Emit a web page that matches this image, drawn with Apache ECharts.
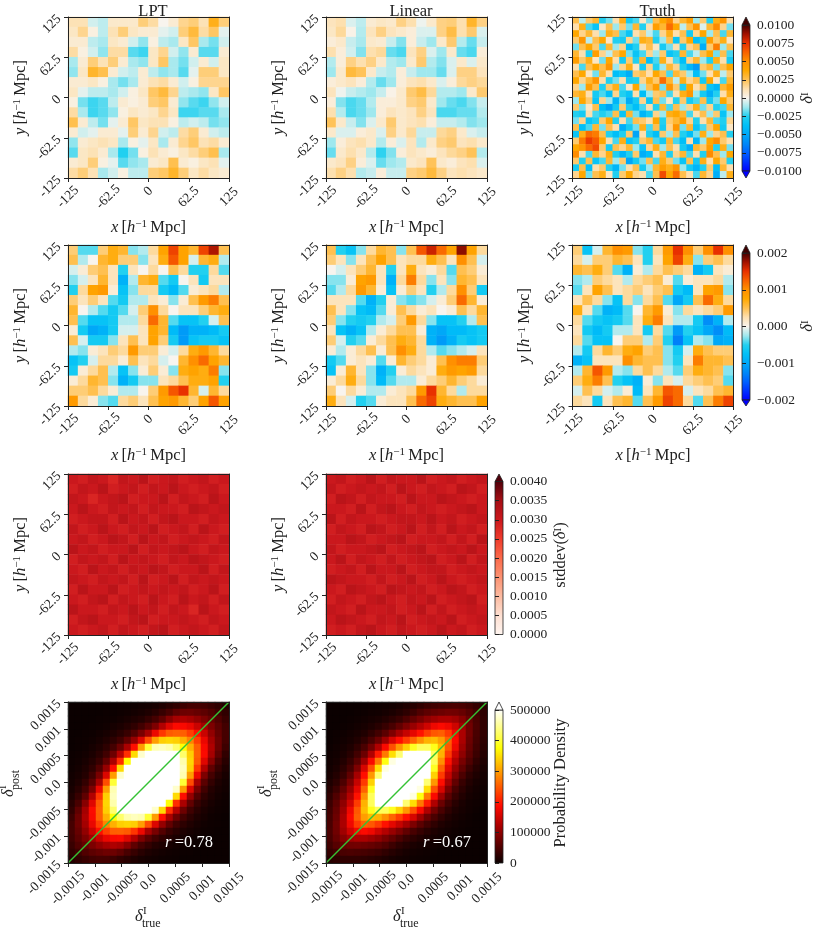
<!DOCTYPE html>
<html>
<head>
<meta charset="utf-8">
<style>
  html, body { margin: 0; padding: 0; background: #fff; }
  #chart { width: 822px; height: 929px; }
</style>
<script src="https://cdn.jsdelivr.net/npm/echarts@6/dist/echarts.min.js"></script>
</head>
<body>
<div id="chart"></div>
<script>
// all field grids run from the top row (y = 125) to the bottom row (y = -125)
// row 1 fields, units are set where the panels are added
var lptFine = [
  [8,8,-4,-6,5,5,5,14,10,0,4,12,14,8,24,14],
  [6,12,2,-6,8,14,6,4,4,-2,-4,14,20,10,16,-2],
  [4,4,-6,-8,6,4,-4,-10,2,-6,-8,6,16,-8,-12,-4],
  [10,2,-4,-10,10,10,-14,-16,6,12,-4,-10,4,-14,-14,4],
  [-8,4,14,8,14,4,-8,-10,6,16,-8,-12,-4,4,-4,6],
  [-10,6,22,18,4,-4,-6,4,-6,-10,-8,-14,-2,14,14,6],
  [4,4,6,2,-8,-12,-8,4,8,10,4,-4,2,12,12,12],
  [6,-2,-6,-6,-8,-4,2,6,16,20,12,-6,-8,-10,6,16],
  [2,-12,-16,-14,-6,4,2,4,14,16,4,-10,-14,-16,-10,-4],
  [10,-8,-16,-14,-10,2,6,4,6,12,6,-16,-16,-14,-14,-8],
  [18,4,-6,-12,-2,4,16,6,8,8,2,-6,-4,-6,-12,-10],
  [4,-4,-2,4,4,-2,14,4,12,-4,-6,10,14,4,-4,-6],
  [-10,4,6,8,6,-8,2,-2,6,-8,4,12,16,8,10,4],
  [-14,6,8,4,-8,-18,-12,2,8,4,2,6,10,14,18,-8],
  [4,6,14,2,-2,-14,-10,-8,4,6,18,4,2,6,8,-2],
  [10,14,8,-8,-4,2,-6,-6,14,16,22,14,6,10,6,4]
];
var linearFine = [
  [7,9,-3,-6,4,6,5,13,9,-1,5,13,14,9,22,13],
  [6,11,1,-7,7,13,7,5,3,-3,-3,13,19,9,15,-3],
  [3,5,-5,-8,5,4,-5,-11,3,-5,-9,5,15,-7,-13,-5],
  [9,3,-4,-11,9,11,-13,-15,7,13,-3,-9,5,-13,-15,3],
  [-7,3,13,9,13,5,-7,-9,5,15,-7,-11,-3,5,-3,5],
  [-9,5,20,17,5,-5,-7,3,-5,-9,-9,-13,-3,13,13,7],
  [3,5,7,3,-7,-13,-9,3,7,9,5,-3,3,11,13,11],
  [7,-1,-5,-7,-9,-5,1,5,15,19,11,-7,-7,-9,5,15],
  [3,-11,-15,-13,-7,3,3,5,13,15,5,-9,-13,-15,-11,-5],
  [9,-7,-15,-13,-9,3,7,5,7,13,7,-15,-15,-13,-13,-7],
  [17,5,-5,-11,-3,5,15,5,7,9,3,-5,-5,-7,-11,-9],
  [5,-3,-3,3,5,-3,13,5,11,-5,-5,11,13,5,-3,-5],
  [-9,3,7,9,5,-7,3,-3,7,-7,5,13,15,7,9,5],
  [-13,5,9,5,-7,-17,-11,3,7,5,3,7,11,13,17,-7],
  [5,7,13,3,-3,-13,-9,-7,5,7,17,5,3,7,9,-3],
  [9,13,9,-7,-5,3,-5,-5,13,15,20,13,7,9,7,5]
];
var truthFine = [
  [30,-10,25,35,-30,-20,15,40,-35,-25,10,-20,30,45,60,20,35,50,-15,25,-30,40,55,15],
  [15,40,-25,-40,10,30,-15,25,-20,35,-30,15,50,35,70,45,-10,30,55,-5,35,60,20,-20],
  [45,20,35,15,-15,40,30,-25,-40,15,25,-10,-25,20,40,15,30,-35,20,45,-15,30,-25,35],
  [25,55,-10,30,45,10,-30,-35,20,-20,40,35,-30,-15,30,-40,25,45,-45,-30,50,25,40,10],
  [-20,30,45,25,-25,35,-15,20,-45,-30,15,30,10,-35,-20,15,-30,20,30,-55,25,65,-15,30],
  [35,15,-30,50,20,-10,30,45,-20,-40,-25,20,-15,25,-40,-30,35,-25,-10,30,45,-20,30,-25],
  [50,25,40,10,-20,45,15,-35,25,-30,35,-45,-25,40,15,-25,-45,20,35,-15,-30,40,15,-35],
  [15,-25,30,45,30,55,-15,20,40,10,-35,20,-30,-15,35,20,-30,-50,-65,25,35,-20,30,45],
  [30,45,10,-20,35,15,-45,-40,-55,25,30,15,45,30,-25,35,25,-15,-45,-20,15,40,-10,25],
  [45,20,35,55,15,-30,-20,15,-35,-30,20,40,25,70,35,-10,40,20,30,-35,45,10,-25,35],
  [20,-15,50,30,-30,25,40,-25,10,45,-15,30,50,-20,55,25,-30,45,15,30,-40,-50,35,50],
  [35,40,15,-35,-25,-45,20,-30,-40,15,-45,-15,25,30,-25,15,40,55,-15,-35,-55,-30,15,40],
  [-15,45,25,-40,20,-15,-50,-20,-55,-35,20,-40,30,-20,10,-30,25,-35,-25,30,-35,-20,45,25],
  [25,-20,10,30,-45,-60,-35,25,-30,-45,-25,15,-30,35,-25,30,-15,20,40,-20,20,-30,-25,35],
  [-30,-35,15,-25,-30,-25,30,-40,35,-20,-50,-35,20,-15,40,45,35,-25,15,30,-15,25,-40,-15],
  [-20,20,-40,-30,25,45,-30,15,-25,30,25,15,45,-30,25,35,50,20,-30,15,35,-25,-30,20],
  [30,-45,-25,35,-20,30,15,-55,-35,-20,40,-25,30,-35,20,55,-20,35,-40,-25,25,45,-35,10],
  [-40,40,70,65,30,-30,-45,-30,25,-60,15,-30,-45,25,-15,30,-30,-45,-20,40,-15,20,30,-30],
  [25,65,85,75,45,15,-25,40,-40,-30,25,35,-25,-35,35,-25,-45,15,-50,-15,45,60,25,15],
  [45,55,70,80,25,-35,30,20,35,-15,-40,20,40,-15,30,15,-35,-55,35,25,50,-30,40,-20],
  [60,15,-25,35,20,40,-30,-50,-30,25,-55,-45,15,35,-30,20,35,-25,15,-30,60,30,-15,45],
  [25,-30,30,-40,-25,35,-15,25,-60,-35,-20,30,-25,40,25,-20,-40,30,-35,40,15,45,25,-30],
  [-35,30,-45,15,25,-30,-50,-20,15,30,-35,-15,35,50,40,55,-15,-35,-50,-30,25,-45,35,15],
  [20,45,-20,30,40,10,-30,25,45,20,15,-25,30,80,45,70,30,15,-25,35,20,-55,-10,40]
];
// row 2 fields
var lptSmooth = [
  [4,-4,-4,4,7,6,-3,-2,3,8,14,8,6,14,17,5],
  [5,-2,0,6,7,4,4,-3,2,7,13,8,-1,6,7,-2],
  [-1,1,4,5,2,-5,2,0,3,0,5,3,-5,-5,3,-4],
  [-3,-1,2,6,2,-9,-2,6,7,-4,-6,0,2,-6,2,2],
  [-5,3,8,9,1,-7,-3,3,3,-6,-8,-4,1,2,3,-2],
  [4,2,4,2,-4,-6,-2,-2,2,1,-3,1,5,9,11,5],
  [6,0,-2,-4,-6,-4,-1,4,10,3,0,2,2,4,6,7],
  [5,-4,-7,-7,-6,-2,-2,3,12,6,-4,-7,-7,-5,-1,5],
  [1,-6,-10,-9,-6,-1,-1,2,8,6,-8,-11,-9,-9,-8,-6],
  [5,-1,-6,-6,-3,2,5,2,8,4,-6,-11,-7,-6,-6,-7],
  [-2,-3,1,2,4,3,9,4,4,1,-1,3,7,9,6,3],
  [-7,-5,-1,3,3,1,5,2,3,-1,0,6,10,12,8,6],
  [-6,1,3,5,-2,-7,-3,1,4,1,-3,7,8,7,11,-3],
  [1,3,6,5,-3,-9,-6,-3,-3,2,3,5,7,7,8,-5],
  [4,4,5,3,1,-2,-2,0,4,9,13,15,6,-1,6,3],
  [9,3,1,-3,-4,3,4,2,5,8,9,6,4,8,13,8]
];
var linearSmooth = [
  [5,-5,-7,-3,3,6,5,-3,5,13,16,12,8,18,8,3],
  [4,2,-3,2,5,8,5,2,3,3,7,5,2,10,5,-1],
  [0,-1,2,4,6,2,-5,2,7,2,1,3,-4,5,4,1],
  [-3,-3,1,8,9,2,-9,3,11,3,-3,2,-3,6,5,2],
  [-4,-2,3,9,6,1,-7,1,4,2,-5,-2,3,10,4,-6],
  [2,2,2,-4,-9,-5,1,-3,-4,-3,-1,1,4,12,6,1],
  [5,2,-3,-7,-8,-4,1,5,3,1,2,0,1,5,3,6],
  [4,-3,-5,-6,-5,-2,-1,4,9,3,-3,-7,-7,-5,-2,5],
  [2,-7,-9,-7,-2,1,3,5,5,1,-9,-10,-8,-8,-7,-6],
  [4,-1,-5,-4,1,3,5,7,6,3,-9,-11,-9,-6,-7,-6],
  [1,-2,1,3,5,1,5,10,7,3,-2,-4,-3,-2,-1,2],
  [-6,-4,1,2,1,-4,1,6,4,3,1,5,10,11,11,4],
  [-7,1,6,2,-3,-9,-5,1,3,2,1,7,9,8,9,3],
  [1,3,7,3,-3,-8,-4,-2,-2,1,3,4,6,4,3,1],
  [4,0,3,1,-2,-2,1,2,3,9,15,6,3,-2,3,3],
  [7,2,-1,-5,-4,1,2,2,5,12,14,7,6,5,5,8]
];
var truthSmooth = [
  [4,-7,-1,6,10,9,-3,-5,3,9,15,10,4,10,15,10],
  [3,-1,4,4,6,5,2,-5,2,8,14,7,-3,4,5,3],
  [6,5,7,4,-4,-9,1,-2,3,5,4,3,-9,-6,2,1],
  [-3,-2,4,3,2,-2,3,4,5,1,-4,1,2,2,3,-2],
  [-4,2,8,5,2,3,4,2,4,5,-6,-8,2,8,9,-3],
  [2,5,3,-3,-7,3,-3,3,5,-4,-10,-6,5,12,7,3],
  [7,2,-4,-9,-8,-4,0,6,9,1,-3,3,2,3,4,9],
  [3,-4,-6,-7,-6,-4,2,7,11,2,-2,-2,-6,-12,-9,-2],
  [2,-6,-8,-6,-2,-2,2,-6,3,-4,-11,-5,-7,-10,-12,-8],
  [3,-4,-7,-7,0,4,4,-2,4,-5,-13,-7,-2,-3,-10,-9],
  [-2,-6,3,6,4,7,8,4,5,-3,-6,-1,7,5,4,4],
  [-9,-7,2,2,2,10,6,5,5,-3,-5,2,11,6,6,5],
  [-2,6,13,9,-2,-3,3,5,3,-2,-4,4,7,6,5,-3],
  [4,7,11,5,-5,-7,-9,1,-3,2,-1,3,4,5,4,-4],
  [-1,5,3,-1,-2,1,-8,2,6,13,12,-1,2,3,5,6],
  [3,2,-6,2,5,6,-4,5,9,14,12,3,-4,5,11,14]
];
// row 3, stddev
var lptStd = [
  [29,28,30,29,27,30,29,31,28,29,30,28,29,30,28,29],
  [28,30,29,31,28,29,30,28,30,29,31,29,28,29,30,28],
  [30,29,27,29,30,31,28,29,29,31,28,30,29,28,31,29],
  [29,31,29,28,30,29,30,28,30,29,29,28,31,30,29,30],
  [28,29,30,30,28,31,29,30,28,30,31,29,29,28,30,29],
  [30,28,29,31,29,28,30,29,31,28,29,30,28,31,29,28],
  [29,30,28,29,31,30,28,31,29,30,28,29,30,29,28,30],
  [31,29,30,28,29,29,31,28,30,29,30,31,29,28,30,29],
  [28,30,29,30,28,31,29,30,29,28,30,29,31,30,29,28],
  [29,28,31,29,30,28,30,29,31,30,28,29,29,31,28,30],
  [30,29,28,30,29,30,28,31,28,29,31,28,30,29,30,29],
  [28,31,29,29,31,28,29,30,29,30,29,30,28,29,31,28],
  [29,28,30,31,28,30,29,28,31,29,28,31,29,30,28,30],
  [31,29,29,28,30,29,31,29,30,28,30,29,27,31,29,28],
  [28,30,31,29,29,28,30,31,28,29,29,30,29,28,30,29],
  [29,28,29,30,28,30,29,28,30,31,28,29,30,29,28,30]
];
var linearStd = [
  [29,30,28,29,31,28,30,29,29,31,28,29,30,28,29,30],
  [30,28,29,30,29,30,28,31,29,28,30,29,28,31,30,28],
  [28,31,30,28,30,29,29,28,31,29,29,31,30,29,28,29],
  [29,29,28,31,28,30,31,29,28,30,29,28,29,30,31,29],
  [31,28,30,29,29,28,29,30,30,29,31,29,30,28,29,30],
  [28,30,29,28,31,30,28,29,31,28,30,28,31,29,30,28],
  [29,29,31,30,28,29,30,31,28,29,29,30,28,30,28,31],
  [30,28,29,29,30,31,28,29,30,31,28,29,30,29,31,29],
  [29,31,28,30,29,28,30,28,29,30,31,28,29,31,28,30],
  [28,29,30,28,31,29,29,31,28,29,30,30,28,29,30,29],
  [31,30,29,29,28,30,28,29,31,28,29,31,29,28,29,30],
  [29,28,31,30,29,28,31,30,29,30,28,29,31,30,28,29],
  [28,30,29,28,30,31,29,28,30,29,31,28,29,30,31,28],
  [30,29,28,31,29,29,30,28,29,31,28,30,28,29,30,29],
  [29,31,30,29,28,30,29,31,28,29,30,29,31,28,29,30],
  [28,29,28,30,31,29,28,30,29,28,29,31,29,30,28,29]
];
// row 4, probability density in units of 1000, clipped at the colour bar top
var lptDensity = [
  [1,1,1,1,1,1,1,2,3,4,6,8,11,16,23,30,39,45,46,43,36,29,20],
  [1,1,1,1,1,2,2,4,5,8,11,15,23,34,47,65,75,76,70,63,53,40,29],
  [1,1,1,1,2,3,4,7,11,15,20,31,45,65,95,118,125,117,104,87,70,53,36],
  [1,1,1,2,3,5,9,13,20,28,42,61,88,128,163,185,183,171,146,115,87,63,43],
  [1,1,2,3,6,10,15,24,35,56,84,120,173,220,248,254,252,228,190,146,104,70,46],
  [1,2,3,5,10,17,27,41,67,106,160,238,300,337,343,338,315,280,228,171,117,76,45],
  [1,2,4,9,15,27,44,75,122,190,299,400,462,468,459,427,375,315,252,183,125,75,39],
  [2,4,7,13,24,41,75,132,214,347,475,500,500,500,500,500,427,338,254,185,118,65,30],
  [3,5,11,20,35,67,122,214,374,500,500,500,500,500,500,500,459,343,248,163,95,47,23],
  [4,8,15,28,56,106,190,347,500,500,500,500,500,500,500,500,468,337,220,128,65,34,16],
  [6,11,20,42,84,160,299,475,500,500,500,500,500,500,500,500,462,300,173,88,45,23,11],
  [8,15,31,61,120,238,400,500,500,500,500,500,500,500,500,500,400,238,120,61,31,15,8],
  [11,23,45,88,173,300,462,500,500,500,500,500,500,500,500,475,299,160,84,42,20,11,6],
  [16,34,65,128,220,337,468,500,500,500,500,500,500,500,500,347,190,106,56,28,15,8,4],
  [23,47,95,163,248,343,459,500,500,500,500,500,500,500,374,214,122,67,35,20,11,5,3],
  [30,65,118,185,254,338,427,500,500,500,500,500,475,347,214,132,75,41,24,13,7,4,2],
  [39,75,125,183,252,315,375,427,459,468,462,400,299,190,122,75,44,27,15,9,4,2,1],
  [45,76,117,171,228,280,315,338,343,337,300,238,160,106,67,41,27,17,10,5,3,2,1],
  [46,70,104,146,190,228,252,254,248,220,173,120,84,56,35,24,15,10,6,3,2,1,1],
  [43,63,87,115,146,171,183,185,163,128,88,61,42,28,20,13,9,5,3,2,1,1,1],
  [36,53,70,87,104,117,125,118,95,65,45,31,20,15,11,7,4,3,2,1,1,1,1],
  [29,40,53,63,70,76,75,65,47,34,23,15,11,8,5,4,2,2,1,1,1,1,1],
  [20,29,36,43,46,45,39,30,23,16,11,8,6,4,3,2,1,1,1,1,1,1,1]
];
var linearDensity = [
  [1,1,1,1,1,1,2,4,5,7,10,15,21,29,37,42,46,48,50,48,42,33,23],
  [1,1,1,1,2,3,5,6,9,13,19,27,39,53,63,70,75,79,78,71,58,42,27],
  [1,1,1,2,4,6,9,12,18,26,35,50,68,84,101,113,122,123,114,95,71,48,29],
  [1,1,2,4,7,10,15,23,34,47,66,88,108,129,150,175,185,176,150,114,78,50,29],
  [1,2,4,7,11,17,28,43,62,88,118,143,167,193,224,246,252,225,176,123,79,48,29],
  [1,3,6,10,17,30,49,74,112,156,190,224,255,290,316,323,300,252,185,122,75,46,27],
  [2,5,9,15,28,49,80,126,184,241,296,340,389,418,418,385,323,246,175,113,70,42,24],
  [4,6,12,23,43,74,126,200,272,350,430,500,500,500,500,418,316,224,150,101,63,37,20],
  [5,9,18,34,62,112,184,272,380,485,500,500,500,500,500,418,290,193,129,84,53,29,15],
  [7,13,26,47,88,156,241,350,485,500,500,500,500,500,500,389,255,167,108,68,39,21,11],
  [10,19,35,66,118,190,296,430,500,500,500,500,500,500,500,340,224,143,88,50,27,15,8],
  [15,27,50,88,143,224,340,500,500,500,500,500,500,500,430,296,190,118,66,35,19,10,6],
  [21,39,68,108,167,255,389,500,500,500,500,500,500,485,350,241,156,88,47,26,13,7,4],
  [29,53,84,129,193,290,418,500,500,500,500,500,485,380,272,184,112,62,34,18,9,5,3],
  [37,63,101,150,224,316,418,500,500,500,500,430,350,272,200,126,74,43,23,12,6,4,2],
  [42,70,113,175,246,323,385,418,418,389,340,296,241,184,126,80,49,28,15,9,5,2,1],
  [46,75,122,185,252,300,323,316,290,255,224,190,156,112,74,49,30,17,10,6,3,1,1],
  [48,79,123,176,225,252,246,224,193,167,143,118,88,62,43,28,17,11,7,4,2,1,1],
  [50,78,114,150,176,185,175,150,129,108,88,66,47,34,23,15,10,7,4,2,1,1,1],
  [48,71,95,114,123,122,113,101,84,68,50,35,26,18,12,9,6,4,2,1,1,1,1],
  [42,58,71,78,79,75,70,63,53,39,27,19,13,9,6,5,3,2,1,1,1,1,1],
  [33,42,48,50,48,46,42,37,29,21,15,10,7,5,4,2,1,1,1,1,1,1,1],
  [23,27,29,29,29,27,24,20,15,11,8,6,4,3,2,1,1,1,1,1,1,1,1]
];
var diagonal = [[-0.0015, -0.0015], [0.0015, 0.0015]];
var titles = ['LPT', 'Linear', 'Truth'];
var correlations = ['0.78', '0.67'];

// colour maps
var divergingColors = ['#0000ff','#0030ff','#0060ff','#0088f8','#00a8f8','#00c0f8','#22d0f0','#a0e8ee','#f8f4ee',
  '#fde0b0','#ffc050','#ffa800','#ff9000','#f86000','#e83000','#a01000','#400000'];
var redColors = ['#fff5f0','#fee0d2','#fcbba1','#fc9272','#fb6a4a','#ef3b2c','#cb181d','#a50f15','#50000a'];
var hotColors = ['#0a0000','#5c0000','#ae0000','#ff0a00','#ff5c00','#ffae00','#ffff05','#ffff80','#ffffff'];

var FONT = '"Liberation Serif", "DejaVu Serif", serif';
var INK = '#222';
var nameRich = {
  i: { fontFamily: FONT, fontStyle: 'italic', fontSize: 16.5, color: INK },
  n: { fontFamily: FONT, fontSize: 16.5, color: INK },
  s: { fontFamily: FONT, fontSize: 11, color: INK, verticalAlign: 'top', padding: [0, 0, 4, 0] }
};
var POS_NAME = '{i|x} {n|[}{i|h}{s|\u22121} {n|Mpc]}';
var Y_NAME = '{i|y} {n|[}{i|h}{s|\u22121} {n|Mpc]}';

var grid = [], xAxis = [], yAxis = [], series = [], graphic = [], title = [];

function seq(n) {
  var out = [];
  for (var i = 0; i < n; i++) out.push(i);
  return out;
}

function tickLabel(v) {
  if (v === 0) return '{z|0.0}';
  return String(+v.toFixed(4));
}

// one image panel: hidden-label category axes carry the cells, value axes carry the ticks
function addPanel(left, top, rows, unit, density) {
  var g = grid.length;
  var range = density ? 0.0015 : 125;
  grid.push({ left: left, top: top, width: 161, height: 161 });
  var labelStyle = {
    color: INK, fontFamily: FONT, fontSize: 13.5, rotate: 45
  };
  xAxis.push({
    type: 'value', gridIndex: g, position: 'bottom', min: -range, max: range,
    interval: density ? 0.0005 : 62.5, z: 5,
    name: density ? '' : POS_NAME, nameLocation: 'middle', nameGap: 41,
    nameTextStyle: { rich: nameRich },
    axisLine: { onZero: false, lineStyle: { color: INK, width: 1 } },
    axisTick: { length: 4, lineStyle: { color: INK } },
    splitLine: { show: false },
    axisLabel: Object.assign({}, labelStyle, {
      align: 'center', verticalAlign: 'middle', margin: density ? 25 : 19,
      showMinLabel: true, showMaxLabel: true, hideOverlap: false,
      formatter: density ? tickLabel : function (v) { return v === 0 ? '{z|0}' : String(v); },
      rich: { z: { fontFamily: FONT, fontSize: 13.5, color: INK, padding: [0, 0, 8, 8] } }
    })
  });
  xAxis.push({
    type: 'category', gridIndex: g, position: 'top', data: seq(rows[0].length), z: 5,
    axisLine: { onZero: false, lineStyle: { color: INK, width: 1 } },
    axisTick: { show: false }, axisLabel: { show: false }, splitLine: { show: false }
  });
  yAxis.push({
    type: 'value', gridIndex: g, position: 'left', min: -range, max: range,
    interval: density ? 0.0005 : 62.5, z: 5,
    name: density ? '' : Y_NAME, nameLocation: 'middle', nameGap: 39,
    nameTextStyle: { rich: nameRich },
    axisLine: { onZero: false, lineStyle: { color: INK, width: 1 } },
    axisTick: { length: 4, lineStyle: { color: INK } },
    splitLine: { show: false },
    axisLabel: Object.assign({}, labelStyle, {
      align: 'right', verticalAlign: 'middle', margin: 9,
      showMinLabel: true, showMaxLabel: true, hideOverlap: false,
      formatter: density ? function (v) { return v === 0 ? '0.0' : String(+v.toFixed(4)); } : function (v) { return String(v); }
    })
  });
  yAxis.push({
    type: 'category', gridIndex: g, position: 'right', data: seq(rows.length), z: 5,
    axisLine: { onZero: false, lineStyle: { color: INK, width: 1 } },
    axisTick: { show: false }, axisLabel: { show: false }, splitLine: { show: false }
  });
  var cells = [];
  rows.forEach(function (row, r) {
    row.forEach(function (v, c) {
      cells.push([c, rows.length - 1 - r, v * unit]);
    });
  });
  series.push({
    type: 'heatmap', xAxisIndex: 2 * g + 1, yAxisIndex: 2 * g + 1, data: cells,
    progressive: 0, emphasis: { disabled: true }, z: 1
  });
  if (density) {
    series.push({
      type: 'line', xAxisIndex: 2 * g, yAxisIndex: 2 * g, data: diagonal, symbol: 'none',
      lineStyle: { color: '#35c235', width: 1.5 }, z: 3, silent: true
    });
  }
  return series.length - (density ? 2 : 1);
}

function gradient(colors) {
  return {
    type: 'linear', x: 0, y: 1, x2: 0, y2: 0, global: false,
    colorStops: colors.map(function (c, i) { return { offset: i / (colors.length - 1), color: c }; })
  };
}

// colour bar: the grid itself is painted, the ticks come from a value axis
function addBar(left, top, height, colors, min, max, interval, fmt) {
  var g = grid.length;
  grid.push({
    show: true, left: left, top: top, width: 8, height: height,
    backgroundColor: gradient(colors), borderColor: INK, borderWidth: 0.8
  });
  xAxis.push({ type: 'value', gridIndex: g, show: false, min: 0, max: 1 });
  xAxis.push({ type: 'value', gridIndex: g, show: false, min: 0, max: 1, position: 'top' });
  yAxis.push({
    type: 'value', gridIndex: g, position: 'right', min: min, max: max, interval: interval,
    axisLine: { show: false },
    axisTick: { length: 4, lineStyle: { color: INK } },
    splitLine: { show: false },
    axisLabel: { color: INK, fontFamily: FONT, fontSize: 13.5, margin: 7, formatter: fmt, showMinLabel: true, showMaxLabel: true }
  });
  yAxis.push({ type: 'value', gridIndex: g, show: false, min: 0, max: 1, position: 'left' });
}

function triangle(points, fill) {
  graphic.push({
    type: 'polygon', shape: { points: points },
    style: { fill: fill, stroke: INK, lineWidth: 0.8 }, z: 10
  });
}

function fixed(d) {
  return function (v) { return (v < 0 ? '\u2212' : '') + Math.abs(v).toFixed(d); };
}

function deltaLabel(x, y, rotation, sub) {
  graphic.push({
    type: 'group', x: x, y: y, rotation: rotation, children: [
      { type: 'text', x: 0, y: 0, style: { text: '\u03b4', fontFamily: FONT, fontStyle: 'italic', fontSize: 16.5, fill: INK, verticalAlign: 'middle' } },
      { type: 'text', x: 8, y: -6, style: { text: 'I', fontFamily: FONT, fontSize: 11, fill: INK, verticalAlign: 'middle' } },
      { type: 'text', x: 7, y: 7, style: { text: sub, fontFamily: FONT, fontSize: 12, fill: INK, verticalAlign: 'middle' } }
    ]
  });
}

function sideLabel(x, y, rich) {
  graphic.push({
    type: 'text', x: x, y: y, rotation: Math.PI / 2,
    style: { text: rich, rich: {
      i: { fontFamily: FONT, fontStyle: 'italic', fontSize: 16.5, fill: INK },
      n: { fontFamily: FONT, fontSize: 16.5, fill: INK },
      s: { fontFamily: FONT, fontSize: 11, fill: INK, verticalAlign: 'top', padding: [0, 0, 4, 0] }
    }, align: 'center', verticalAlign: 'middle' }
  });
}

var COL1 = 68, COL2 = 326, COL3 = 572.5;
var ROW1 = 17, ROW2 = 245, ROW3 = 474, ROW4 = 702;

var fineIdx = [addPanel(COL1, ROW1, lptFine, 1.4e-4), addPanel(COL2, ROW1, linearFine, 1.4e-4), addPanel(COL3, ROW1, truthFine, 0.85e-4)];
var smoothIdx = [addPanel(COL1, ROW2, lptSmooth, 1e-4), addPanel(COL2, ROW2, linearSmooth, 1e-4), addPanel(COL3, ROW2, truthSmooth, 1e-4)];
var stdIdx = [addPanel(COL1, ROW3, lptStd, 1.04e-4), addPanel(COL2, ROW3, linearStd, 1.04e-4)];
var densityIdx = [addPanel(COL1, ROW4, lptDensity, 1000, true), addPanel(COL2, ROW4, linearDensity, 1000, true)];

addBar(742, 25, 146, divergingColors, -0.01, 0.01, 0.0025, fixed(4));
addBar(742, 253, 147, divergingColors, -0.002, 0.002, 0.001, fixed(3));
addBar(495, 481.5, 153, redColors, 0, 0.004, 0.0005, fixed(4));
addBar(495, 710, 153, hotColors, 0, 500000, 100000, function (v) { return String(v); });

triangle([[742, 25], [750, 25], [746, 17]], '#400000');
triangle([[742, 171], [750, 171], [746, 178]], '#0000ff');
triangle([[742, 253], [750, 253], [746, 245]], '#400000');
triangle([[742, 400], [750, 400], [746, 406]], '#0000ff');
triangle([[495, 481.5], [503, 481.5], [499, 474]], '#50000a');
triangle([[495, 710], [503, 710], [499, 702]], '#ffffff');

sideLabel(808, 98, '{i|\u03b4}{s|I}');
sideLabel(808, 326, '{i|\u03b4}{s|I}');
sideLabel(561, 555, '{n|stddev(}{i|\u03b4}{s|I}{n|)}');
sideLabel(561, 783, '{n|Probability Density}');

[COL1, COL2].forEach(function (left, k) {
  deltaLabel(left + 67, 917, 0, 'true');
  deltaLabel(left - 59, 797, Math.PI / 2, 'post');
  graphic.push({
    type: 'text', x: left + 97, y: 843,
    style: { text: '{i|r} {n|=' + correlations[k] + '}', align: 'left', verticalAlign: 'middle', rich: {
      i: { fontFamily: FONT, fontStyle: 'italic', fontSize: 16.5, fill: '#fff' },
      n: { fontFamily: FONT, fontSize: 16.5, fill: '#fff' }
    } }, z: 10
  });
});

[COL1, COL2, COL3].forEach(function (left, k) {
  title.push({
    text: titles[k], left: left + 80, top: -2, textAlign: 'center',
    textStyle: { color: INK, fontFamily: FONT, fontSize: 16.5, fontWeight: 'normal' }
  });
});

var myChart = echarts.init(document.getElementById('chart'));
myChart.setOption({
  animation: false,
  backgroundColor: '#fff',
  title: title,
  grid: grid,
  xAxis: xAxis,
  yAxis: yAxis,
  visualMap: [
    { show: false, dimension: 2, seriesIndex: fineIdx, min: -0.01, max: 0.01, inRange: { color: divergingColors } },
    { show: false, dimension: 2, seriesIndex: smoothIdx, min: -0.002, max: 0.002, inRange: { color: divergingColors } },
    { show: false, dimension: 2, seriesIndex: stdIdx, min: 0, max: 0.004, inRange: { color: redColors } },
    { show: false, dimension: 2, seriesIndex: densityIdx, min: 0, max: 500000, inRange: { color: hotColors } }
  ],
  graphic: graphic,
  series: series
});
</script>
</body>
</html>
